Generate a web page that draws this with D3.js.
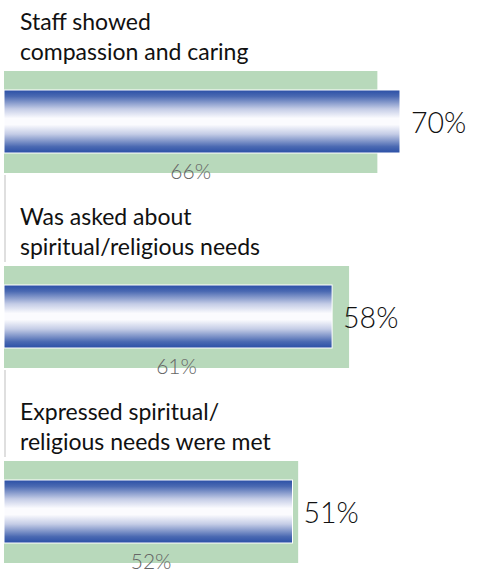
<!DOCTYPE html>
<html>
<head>
<meta charset="utf-8">
<script src="https://d3js.org/d3.v7.min.js"></script>
<style>
  body { margin: 0; background: #fff; }
  svg { display: block; }
</style>
</head>
<body>
<div id="chart"></div>
<script>
// DATA
var categories = [
  ["Staff showed", "compassion and caring"],
  ["Was asked about", "spiritual/religious needs"],
  ["Expressed spiritual/", "religious needs were met"]
];
var currentValues = [70, 58, 51];
var compareValues = [66, 61, 52];

var width = 479, height = 569;
var FONT = "Lato, 'DejaVu Sans', sans-serif";

var svg = d3.select("#chart").append("svg")
  .attr("width", width)
  .attr("height", height);

// gradient for the main bars
var grad = svg.append("defs").append("linearGradient")
  .attr("id", "blueGrad")
  .attr("x1", 0).attr("y1", 0).attr("x2", 0).attr("y2", 1);
grad.append("stop").attr("offset", "0%").attr("stop-color", "#2a4fa6");
grad.append("stop").attr("offset", "10%").attr("stop-color", "#4a69b2");
grad.append("stop").attr("offset", "30%").attr("stop-color", "#c4cce6");
grad.append("stop").attr("offset", "45%").attr("stop-color", "#fbfbfe");
grad.append("stop").attr("offset", "55%").attr("stop-color", "#fbfbfe");
grad.append("stop").attr("offset", "70%").attr("stop-color", "#c4cce6");
grad.append("stop").attr("offset", "90%").attr("stop-color", "#4a69b2");
grad.append("stop").attr("offset", "100%").attr("stop-color", "#2a4fa6");

// scales
var x = d3.scaleLinear().domain([0, 100]).range([4, 4 + 565.7]);
var y = d3.scaleBand()
  .domain(d3.range(categories.length))
  .range([71, 71 + 195 * categories.length])
  .padding(0);

var greenH = 102;
var blueTop = 19, blueH = 63;

var g = svg.selectAll("g.group")
  .data(categories)
  .enter()
  .append("g")
  .attr("class", "group")
  .attr("transform", function (d, i) { return "translate(0," + y(i) + ")"; });

// thin gray separator line above each group (except the first)
g.filter(function (d, i) { return i > 0; })
  .append("line")
  .attr("x1", 5).attr("x2", 5)
  .attr("y1", -y.bandwidth() + greenH + 2)
  .attr("y2", -4)
  .attr("stroke", "#d4d4d4")
  .attr("stroke-width", 1.5);

// category labels
g.each(function (d) {
  var t = d3.select(this).append("text")
    .attr("x", 20)
    .attr("font-family", FONT)
    .attr("font-size", 23)
    .attr("fill", "#111");
  t.selectAll("tspan").data(d).enter().append("tspan")
    .attr("x", 20)
    .attr("y", function (s, j) { return -41 + j * 30; })
    .text(function (s) { return s; });
});

// comparison (green) bars
g.append("rect")
  .attr("x", x(0))
  .attr("y", 0)
  .attr("width", function (d, i) { return x(compareValues[i]) - x(0); })
  .attr("height", greenH)
  .attr("fill", "#b8d9bb");

// main (blue gradient) bars
g.append("rect")
  .attr("x", x(0))
  .attr("y", blueTop)
  .attr("width", function (d, i) { return x(currentValues[i]) - x(0); })
  .attr("height", blueH)
  .attr("fill", "url(#blueGrad)")
  .attr("stroke", "#ffffff")
  .attr("stroke-width", 1);

// main value labels
g.append("text")
  .attr("x", function (d, i) { return x(currentValues[i]) + 11; })
  .attr("y", blueTop + blueH / 2 + 11)
  .attr("font-family", FONT)
  .attr("font-weight", 300)
  .attr("font-size", 28.5)
  .attr("fill", "#111")
  .text(function (d, i) { return currentValues[i] + "%"; });

// comparison value labels
g.append("text")
  .attr("x", function (d, i) { return (x(0) + x(compareValues[i])) / 2; })
  .attr("y", greenH + 6)
  .attr("text-anchor", "middle")
  .attr("font-family", FONT)
  .attr("font-weight", 300)
  .attr("font-size", 21)
  .attr("fill", "#666")
  .text(function (d, i) { return compareValues[i] + "%"; });
</script>
</body>
</html>
